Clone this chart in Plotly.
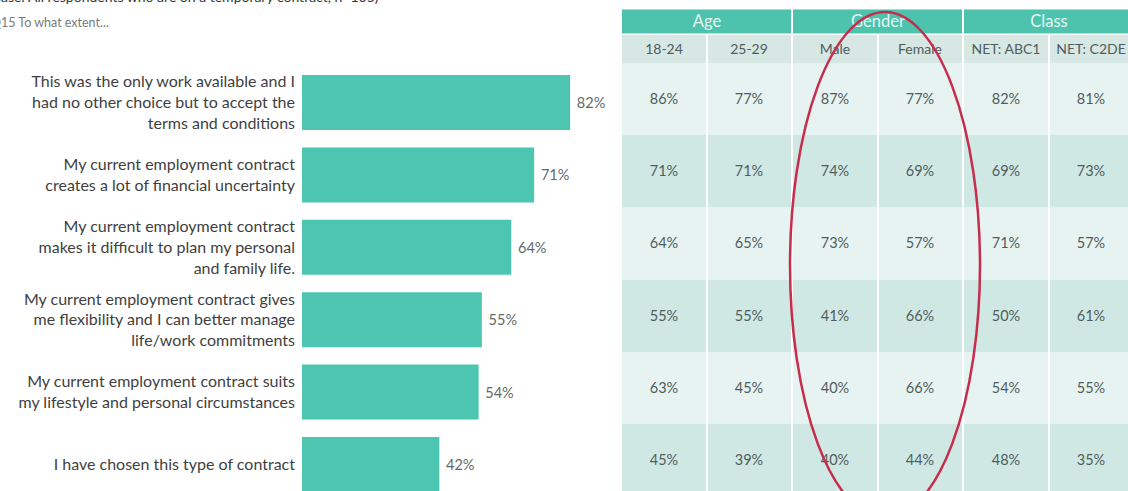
import plotly.graph_objects as go

# ---------------- data ----------------
statements = [
    "This was the only work available and I<br>had no other choice but to accept the<br>terms and conditions",
    "My current employment contract<br>creates a lot of financial uncertainty",
    "My current employment contract<br>makes it difficult to plan my personal<br>and family life.",
    "My current employment contract gives<br>me flexibility and I can better manage<br>life/work commitments",
    "My current employment contract suits<br>my lifestyle and personal circumstances",
    "I have chosen this type of contract",
]
total = [82, 71, 64, 55, 54, 42]

groups = ["Age", "Gender", "Class"]
subgroups = ["18-24", "25-29", "Male", "Female", "NET: ABC1", "NET: C2DE"]
age_18_24 = [86, 71, 64, 55, 63, 45]
age_25_29 = [77, 71, 65, 55, 45, 39]
male = [87, 74, 73, 41, 40, 40]
female = [77, 69, 57, 66, 66, 44]
net_abc1 = [82, 69, 71, 50, 54, 48]
net_c2de = [81, 73, 57, 61, 55, 35]
columns = [age_18_24, age_25_29, male, female, net_abc1, net_c2de]

base_text = "Base: All respondents who are on a temporary contract, n=105)"
question_text = "Q15 To what extent..."

# ---------------- style ----------------
W, H = 1128, 491
FONT = "Lato"
BAR = "#4cc6b0"
HEAD1 = "#4dc3ad"
HEAD2 = "#d6e7e4"
LIGHT = "#e7f3f1"
DARK = "#cfe8e4"
TXT = "#4f5d5d"
RED = "#c72c4c"

n_rows = len(statements)
n_cols = len(subgroups)

fig = go.Figure()

# bar chart
fig.add_trace(go.Bar(
    x=total, y=statements, orientation="h",
    marker=dict(color=BAR, line=dict(width=0)), width=0.76,
    texttemplate=" %{x}%", textposition="outside", cliponaxis=False,
    textfont=dict(family=FONT, size=14.5, color="#5f6a6a"),
    hoverinfo="skip", xaxis="x", yaxis="y",
))

# table body
x_edges = [i - 0.5 for i in range(n_cols + 1)]
y_edges = [i - 0.5 for i in range(n_rows + 1)]
z_body = [[r % 2 for _ in range(n_cols)] for r in range(n_rows)]
t_body = [[f"{columns[c][r]}%" for c in range(n_cols)] for r in range(n_rows)]
fig.add_trace(go.Heatmap(
    x=x_edges, y=y_edges, z=z_body, text=t_body, texttemplate="%{text}",
    textfont=dict(family=FONT, size=14.5, color=TXT),
    colorscale=[[0, LIGHT], [1, DARK]], zmin=0, zmax=1, showscale=False,
    xgap=2, ygap=0, hoverinfo="skip", xaxis="x2", yaxis="y2",
))

# sub-header row
h2_top, h2_bot = -0.886, -0.5
fig.add_trace(go.Heatmap(
    x=x_edges, y=[h2_top, h2_bot], z=[[0] * n_cols], text=[subgroups],
    texttemplate="%{text}", textfont=dict(family=FONT, size=14, color=TXT),
    colorscale=[[0, HEAD2], [1, HEAD2]], showscale=False,
    xgap=2, hoverinfo="skip", xaxis="x2", yaxis="y2",
))

# group header row
span = n_cols // len(groups)
g_edges = [-0.5 + span * i for i in range(len(groups) + 1)]
h1_top, h1_bot = -1.24, -0.914
fig.add_trace(go.Heatmap(
    x=g_edges, y=[h1_top, h1_bot], z=[[0] * len(groups)], text=[groups],
    texttemplate="%{text}", textfont=dict(family=FONT, size=16.5, color="#e6f6f2"),
    colorscale=[[0, HEAD1], [1, HEAD1]], showscale=False,
    xgap=2, hoverinfo="skip", xaxis="x2", yaxis="y2",
))

# red ellipse highlight
fig.add_shape(type="circle", xref="paper", yref="paper",
              x0=790 / W, x1=980 / W, y0=1 - 518 / H, y1=1 - 12 / H,
              line=dict(color=RED, width=2.5), layer="above")

# header texts (partly cut at the edges as in the source)
fig.add_annotation(text=base_text, xref="paper", yref="paper",
                   x=-10 / W, y=1 - 7 / H, xanchor="left", yanchor="bottom",
                   showarrow=False, font=dict(family=FONT, size=14, color="#333333"))
fig.add_annotation(text=question_text, xref="paper", yref="paper",
                   x=-11 / W, y=1 - 22 / H, xanchor="left", yanchor="middle",
                   showarrow=False, font=dict(family=FONT, size=12.5, color="#7a7a7a"))

px_per_pct = 3.27
bar_left, bar_right = 302, 615
fig.update_layout(
    width=W, height=H, margin=dict(l=0, r=0, t=0, b=0),
    paper_bgcolor="white", plot_bgcolor="white", showlegend=False,
    font=dict(family=FONT),
    xaxis=dict(domain=[bar_left / W, bar_right / W],
               range=[0, (bar_right - bar_left) / px_per_pct],
               visible=False, fixedrange=True),
    yaxis=dict(domain=[0, 1 - 66.3 / H], range=[5.366, -0.5],
               showgrid=False, zeroline=False, showline=False, ticks="",
               ticklabelstandoff=6,
               tickfont=dict(family=FONT, size=16, color="#3f3f3f")),
    xaxis2=dict(domain=[621 / W, 1], range=[-0.5, -0.5 + (W - 621) / 85.5],
                visible=False),
    yaxis2=dict(domain=[0, 1], range=[5.43, -1.371], visible=False),
)

fig.write_html(
    "out.html",
    config={"displayModeBar": False},
    post_script="document.body.style.margin='0';document.body.style.overflow='hidden';",
)
